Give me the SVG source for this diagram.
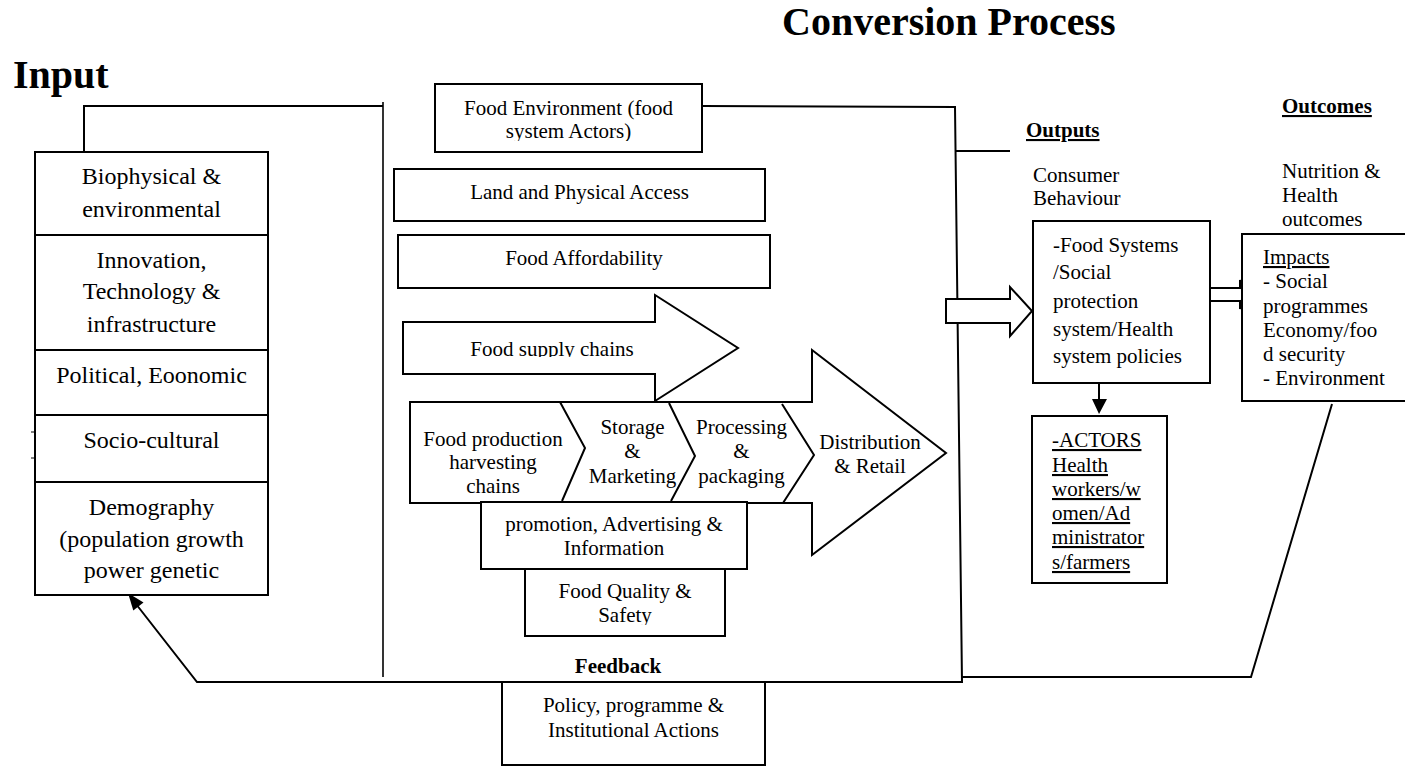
<svg xmlns="http://www.w3.org/2000/svg" width="1405" height="766" viewBox="0 0 1405 766">
<style>
text{font-family:"Liberation Serif","Times New Roman",serif;fill:#000}
.t{font-size:21px}
.l{font-size:24px;text-anchor:middle}
.c{text-anchor:middle}
.h{font-size:40px;font-weight:bold}
.b{font-size:21px;font-weight:bold}
.u{text-decoration:underline}
.box{fill:#fff;stroke:#000;stroke-width:2}
.ln{fill:none;stroke:#000;stroke-width:2}
</style>
<defs>
<clipPath id="clipSupply"><rect x="0" y="0" width="1405" height="357"/></clipPath>
<clipPath id="clipEnv"><rect x="0" y="0" width="1405" height="141"/></clipPath>
<clipPath id="clipSafety"><rect x="0" y="0" width="1405" height="625"/></clipPath>
<clipPath id="clipOutc"><rect x="0" y="0" width="1405" height="226.5"/></clipPath>
</defs>
<rect width="1405" height="766" fill="#fff"/>

<g id="titles">
<text class="h" x="13" y="88">Input</text>
<text class="h" x="782" y="35">Conversion Process</text>
<text class="b u" x="1026" y="137">Outputs</text>
<text class="b u" x="1282" y="113">Outcomes</text>
<text class="b c" x="618" y="673">Feedback</text>
</g>

<g id="connectors">
<polyline class="ln" points="84,152 84,106 383,106"/>
<line x1="383" y1="102" x2="383" y2="677" stroke="#000" stroke-width="1.6"/>
<polyline class="ln" points="702,106 955,107 962,682 197,682 136,604"/>
<polygon points="128,593 143.5,602.4 133.3,610.4" fill="#000"/>
<line class="ln" x1="955" y1="151" x2="1010" y2="151"/>
<polyline class="ln" points="962,677 1251,677 1332,404"/>
<polygon class="box" points="946,299 1010,299 1010,287 1032,311 1010,336 1010,323 946,323"/>
<polygon class="box" points="1210,288 1240,288 1240,280 1243,294.5 1240,309 1240,301 1210,301"/>
<line class="ln" x1="1099" y1="383" x2="1099" y2="400"/>
<polygon points="1092,399 1107,399 1099,414" fill="#000"/>
<line x1="31" y1="432" x2="35" y2="432" stroke="#000" stroke-width="1"/>
<line x1="31" y1="458" x2="35" y2="458" stroke="#000" stroke-width="1"/>
</g>

<g id="input-factors">
<rect class="box" x="35" y="152" width="233" height="443"/>
<line class="ln" x1="35" y1="235" x2="268" y2="235"/>
<line class="ln" x1="35" y1="350" x2="268" y2="350"/>
<line class="ln" x1="35" y1="415" x2="268" y2="415"/>
<line class="ln" x1="35" y1="482" x2="268" y2="482"/>
<text class="l" x="151.5" y="184">Biophysical &amp;</text>
<text class="l" x="151.5" y="217">environmental</text>
<text class="l" x="151.5" y="268">Innovation,</text>
<text class="l" x="151.5" y="299">Technology &amp;</text>
<text class="l" x="151.5" y="332">infrastructure</text>
<text class="l" x="151.5" y="383">Political, Eoonomic</text>
<text class="l" x="151.5" y="448">Socio-cultural</text>
<text class="l" x="151.5" y="515">Demography</text>
<text class="l" x="151.5" y="547">(population growth</text>
<text class="l" x="151.5" y="578">power genetic</text>
</g>

<g id="food-environment">
<rect class="box" x="435" y="84" width="267" height="68"/>
<text class="t c" x="568.5" y="115">Food Environment (food</text>
<text class="t c" x="568.5" y="138" clip-path="url(#clipEnv)">system Actors)</text>
</g>

<g id="land-access">
<rect class="box" x="394" y="169" width="371" height="52"/>
<text class="t c" x="579.5" y="199">Land and Physical Access</text>
</g>

<g id="affordability">
<rect class="box" x="398" y="235" width="372" height="53"/>
<text class="t c" x="584" y="265">Food Affordability</text>
</g>

<g id="supply-chains">
<polygon class="box" points="403,322 655,322 655,295 738,348 655,401 655,374 403,374"/>
<text class="t c" x="552" y="356" clip-path="url(#clipSupply)">Food supply chains</text>
</g>

<g id="value-chain">
<polygon class="box" points="410,402 812,402 812,350 946,453 812,555 812,503 410,503"/>
<polyline class="ln" points="560,402 585,448 562,501"/>
<polyline class="ln" points="669,403 695,456 671,501"/>
<polyline class="ln" points="782,404 814,455 783,503"/>
<text class="t c" x="493" y="446">Food production</text>
<text class="t c" x="493" y="469">harvesting</text>
<text class="t c" x="493" y="493">chains</text>
<text class="t c" x="632.5" y="434">Storage</text>
<text class="t c" x="632.5" y="458">&amp;</text>
<text class="t c" x="632.5" y="483">Marketing</text>
<text class="t c" x="741.5" y="434">Processing</text>
<text class="t c" x="741.5" y="458">&amp;</text>
<text class="t c" x="741.5" y="483">packaging</text>
<text class="t c" x="870" y="449">Distribution</text>
<text class="t c" x="870" y="473">&amp; Retail</text>
</g>

<g id="promotion">
<rect class="box" x="481" y="502" width="266" height="67"/>
<text class="t c" x="614" y="531">promotion, Advertising &amp;</text>
<text class="t c" x="614" y="555">Information</text>
</g>

<g id="food-quality">
<rect class="box" x="525" y="569" width="200" height="67"/>
<text class="t c" x="625" y="598">Food Quality &amp;</text>
<text class="t c" x="625" y="622" clip-path="url(#clipSafety)">Safety</text>
</g>

<g id="policy-actions">
<rect class="box" x="502" y="682" width="263" height="83"/>
<text class="t c" x="633.5" y="712">Policy, programme &amp;</text>
<text class="t c" x="633.5" y="737">Institutional Actions</text>
</g>

<g id="consumer-behaviour">
<text class="t" x="1033" y="182">Consumer</text>
<text class="t" x="1033" y="205">Behaviour</text>
</g>

<g id="food-systems">
<rect class="box" x="1033" y="221" width="177" height="162"/>
<text class="t" x="1053" y="252">-Food Systems</text>
<text class="t" x="1053" y="279">/Social</text>
<text class="t" x="1053" y="308">protection</text>
<text class="t" x="1053" y="336">system/Health</text>
<text class="t" x="1053" y="363">system policies</text>
</g>

<g id="actors">
<rect class="box" x="1032" y="416" width="135" height="167"/>
<text class="t u" x="1052" y="447">-ACTORS</text>
<text class="t u" x="1052" y="472">Health</text>
<text class="t u" x="1052" y="496">workers/w</text>
<text class="t u" x="1052" y="520">omen/Ad</text>
<text class="t u" x="1052" y="544">ministrator</text>
<text class="t u" x="1052" y="569">s/farmers</text>
</g>

<g id="nutrition-health">
<text class="t" x="1282" y="178">Nutrition &amp;</text>
<text class="t" x="1282" y="202">Health</text>
<text class="t" x="1282" y="226" clip-path="url(#clipOutc)">outcomes</text>
</g>

<g id="impacts">
<rect class="box" x="1242" y="234" width="170" height="167"/>
<text class="t u" x="1263" y="264">Impacts</text>
<text class="t" x="1263" y="288">- Social</text>
<text class="t" x="1263" y="313">programmes</text>
<text class="t" x="1263" y="337">Economy/foo</text>
<text class="t" x="1263" y="361">d security</text>
<text class="t" x="1263" y="385">- Environment</text>
</g>
</svg>
